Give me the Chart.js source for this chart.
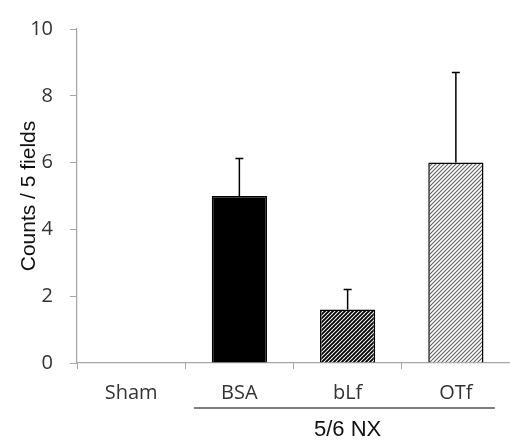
<!DOCTYPE html>
<html>
<head>
<meta charset="utf-8">
<script src="https://cdn.jsdelivr.net/npm/chart.js@4.4.0/dist/chart.umd.min.js"></script>
<style>
  body { margin: 0; background: #fff; }
  #wrap { width: 510px; height: 443px; position: relative; }
</style>
</head>
<body>
<div id="wrap"><canvas id="chartCounts"></canvas></div>
<script>
var categories = ['Sham', 'BSA', 'bLf', 'OTf'];
var counts = [0, 5.0, 1.6, 6.0];
var errUp = [0, 1.12, 0.6, 2.7];
var yTicks = [0, 2, 4, 6, 8, 10];
var groupLabel = '5/6 NX';
var groupFrom = 1, groupTo = 3;

// hatch fills
function hatch(bg, fg, lw) {
    var c = document.createElement('canvas');
    c.width = 4; c.height = 4;
    var g = c.getContext('2d');
    g.fillStyle = bg;
    g.fillRect(0, 0, 4, 4);
    g.strokeStyle = fg;
    g.lineWidth = lw;
    g.beginPath();
    g.moveTo(-1, 5); g.lineTo(5, -1);
    g.moveTo(-1, 1); g.lineTo(1, -1);
    g.moveTo(3, 5); g.lineTo(5, 3);
    g.stroke();
    return document.getElementById('chartCounts').getContext('2d').createPattern(c, 'repeat');
}

var fills = ['#ffffff', '#000000', hatch('#ffffff', '#000000', 1.9), hatch('#ffffff', '#606060', 1.1)];
var axisColor = '#a6a6a6';

var errorBars = {
    id: 'errorBars',
    afterDatasetsDraw: function(chart) {
        var ctx = chart.ctx;
        var y = chart.scales.y;
        var meta = chart.getDatasetMeta(0);
        ctx.save();
        ctx.strokeStyle = '#000';
        ctx.lineWidth = 1.5;
        meta.data.forEach(function(bar, i) {
            if (!errUp[i]) return;
            var top = y.getPixelForValue(counts[i] + errUp[i]);
            ctx.beginPath();
            ctx.moveTo(bar.x, bar.y);
            ctx.lineTo(bar.x, top);
            ctx.moveTo(bar.x - 4, top);
            ctx.lineTo(bar.x + 4, top);
            ctx.stroke();
        });
        ctx.restore();
    }
};

var groupBracket = {
    id: 'groupBracket',
    afterDraw: function(chart) {
        var ctx = chart.ctx;
        var x = chart.scales.x;
        var w = x.getPixelForValue(1) - x.getPixelForValue(0);
        var x1 = x.getPixelForValue(groupFrom) - 0.42 * w;
        var x2 = x.getPixelForValue(groupTo) + 0.36 * w;
        var yLine = chart.chartArea.bottom + 45;
        ctx.save();
        ctx.strokeStyle = '#000';
        ctx.lineWidth = 1.2;
        ctx.beginPath();
        ctx.moveTo(x1, yLine);
        ctx.lineTo(x2, yLine);
        ctx.stroke();
        ctx.fillStyle = '#111';
        ctx.font = '22px "Liberation Sans", Arial, sans-serif';
        ctx.textAlign = 'center';
        ctx.textBaseline = 'alphabetic';
        ctx.fillText(groupLabel, x.getPixelForValue((groupFrom + groupTo) / 2), chart.chartArea.bottom + 73);
        ctx.restore();
    }
};

var ctx = document.getElementById('chartCounts');
var chartCounts = new Chart(ctx, {
    type: 'bar',
    data: {
        labels: categories,
        datasets: [{
            data: counts,
            backgroundColor: fills,
            borderColor: '#000',
            borderWidth: [0, 1.5, 1.5, 1.5],
            borderSkipped: 'bottom',
            categoryPercentage: 1,
            barPercentage: 0.51
        }]
    },
    options: {
        responsive: true,
        maintainAspectRatio: false,
        animation: false,
        layout: { padding: { top: 20, right: 0, left: 0, bottom: 0 } },
        plugins: {
            legend: { display: false },
            tooltip: { enabled: false }
        },
        scales: {
            x: {
                grid: {
                    offset: true,
                    drawOnChartArea: false,
                    color: axisColor,
                    tickLength: 6
                },
                border: { color: axisColor, width: 1.2 },
                ticks: {
                    color: '#333',
                    padding: 12,
                    font: { family: '"Open Sans", sans-serif', size: 20 }
                },
                afterFit: function(s) { s.height = 80; }
            },
            y: {
                min: 0,
                max: 10,
                afterBuildTicks: function(s) {
                    s.ticks = yTicks.map(function(v) { return { value: v }; });
                },
                grid: {
                    drawOnChartArea: false,
                    color: axisColor,
                    tickLength: 7
                },
                border: { color: axisColor, width: 1.2 },
                ticks: {
                    color: '#333',
                    padding: 17,
                    font: { family: '"Open Sans", sans-serif', size: 20 }
                },
                title: {
                    display: true,
                    text: 'Counts / 5 fields',
                    color: '#111',
                    padding: { top: 17, bottom: 0 },
                    font: { family: '"Liberation Sans", Arial, sans-serif', size: 21 }
                },
                afterFit: function(s) { s.width = 77; }
            }
        }
    },
    plugins: [errorBars, groupBracket]
});
</script>
</body>
</html>
